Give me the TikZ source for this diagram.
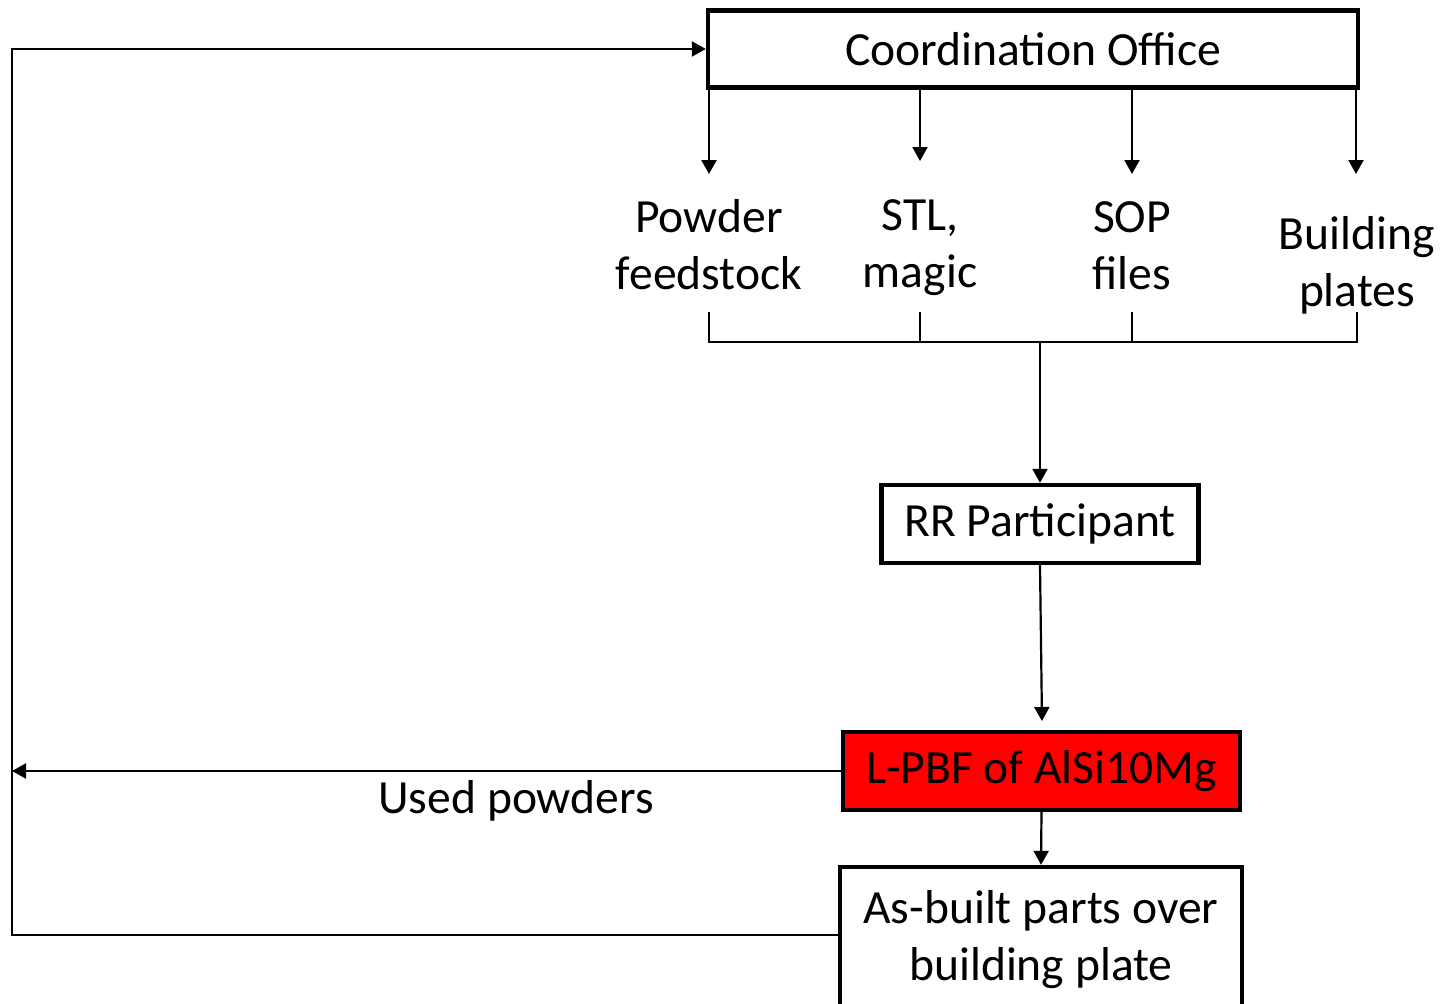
\documentclass[tikz,border=0pt]{standalone}
\usepackage{fontspec}
\setmainfont{Carlito}
\usetikzlibrary{arrows.meta}
\begin{document}
\begin{tikzpicture}[x=0.5pt,y=-0.5pt,
  every node/.style={font=\fontsize{23.8}{28.5}\selectfont, inner sep=0pt},
  box/.style={draw, line width=2.2pt, minimum width=#1},
  lbl/.style={align=center},
  conn/.style={line width=1.1pt},
  arr/.style={conn, -{Triangle[length=7pt,width=7.5pt]}}]
\useasboundingbox (0,0) rectangle (1440,1003);
% boxes
\node[box=325pt, minimum height=38.5pt] (co) at (1033,49) {Coordination Office};
\node[box=158.5pt, minimum height=39pt] (rr) at (1040,524) {RR Participant};
\node[box=198.5pt, minimum height=39pt, fill=red] (lp) at (1041.5,771) {L-PBF of AlSi10Mg};
\node[box=201pt, minimum height=73pt, align=center] (ab) at (1041,940) {As-built parts over\\building plate};
% item labels
\node[lbl] (pf) at (709,245) {Powder\\feedstock};
\node[lbl] (stl) at (920,248) {STL,\\magic};
\node[lbl] (sop) at (1132,246) {SOP\\files};
\node[lbl] (bp) at (1357,265) {Building\\plates};
\node (up) at (516,801) {Used powders};
% arrow ends
\coordinate (a1) at (709,174);
\coordinate (a2) at (920,161);
\coordinate (a3) at (1132,174);
\coordinate (a4) at (1356,174);
\draw[arr] (a1 |- co.south) -- (a1);
\draw[arr] (a2 |- co.south) -- (a2);
\draw[arr] (a3 |- co.south) -- (a3);
\draw[arr] (a4 |- co.south) -- (a4);
% bracket
\coordinate (t1) at (709,312);
\coordinate (t2) at (920,312);
\coordinate (t3) at (1132,312);
\coordinate (t4) at (1357,312);
\coordinate (b1) at (709,342);
\coordinate (b4) at (1357,342);
\coordinate (hub) at (1040,342);
\draw[conn] (t1) -- (b1) -- (b4) -- (t4);
\draw[conn] (t2) -- (t2 |- b1);
\draw[conn] (t3) -- (t3 |- b1);
\draw[arr] (hub) -- (rr.north);
% main flow
\coordinate (lpin) at (1042,721);
\draw[arr] (rr.south) -- (lpin);
\draw[arr] (lp.south) -- (ab.north);
% feedback
\coordinate (L1) at (12,935);
\coordinate (L2) at (12,49);
\draw[arr] (lp.west) -- (lp.west -| L1);
\draw[arr] (ab.west |- L1) -- (L1) -- (L2) -- (co.west);
\end{tikzpicture}
\end{document}
